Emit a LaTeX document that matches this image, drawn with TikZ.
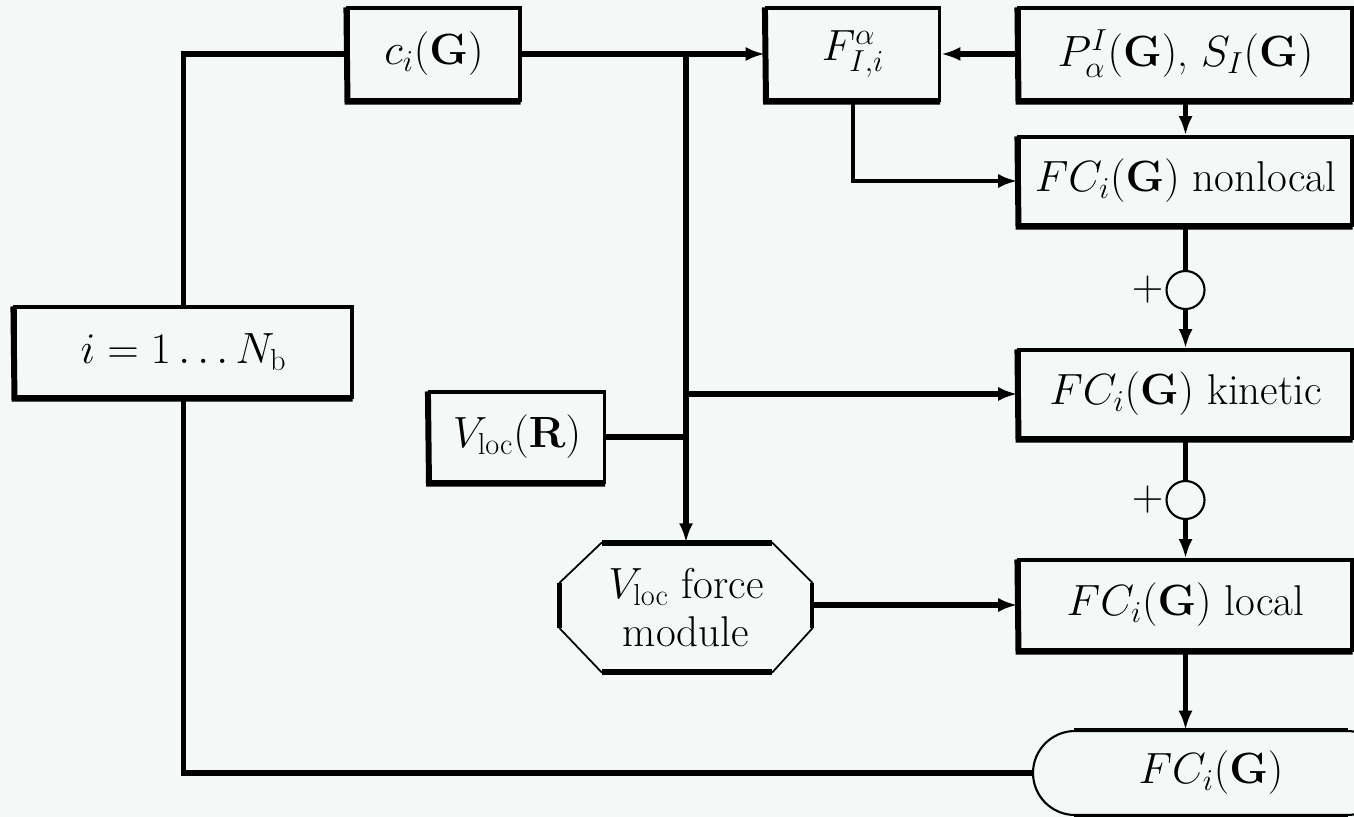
\documentclass[tikz,border=0pt]{standalone}
\usepackage{graphicx}
\usetikzlibrary{arrows.meta,calc}
\definecolor{bgc}{RGB}{244,248,246}
\begin{document}
\begin{tikzpicture}[x=0.02cm,y=-0.02cm,
  font=\fontsize{24.5}{27}\selectfont,
  conn/.style={line width=3pt},
  arr/.style={line width=3pt,-{Latex[length=11pt,width=8pt]}},
  thinarr/.style={line width=2.4pt,-{Latex[length=11pt,width=8pt]}},
  boxn/.style={rectangle,draw,line width=1.8pt,fill=bgc,inner sep=0pt},
  shade/.style={line width=3.4pt},
  sumc/.style={circle,draw,line width=1.2pt,fill=bgc,minimum size=38*0.02cm,inner sep=0pt}]
\fill[bgc] (0,0) rectangle (1354,817);
\clip (0,0) rectangle (1354,817);
% nodes
\node[boxn,minimum width=172*0.02cm,minimum height=92*0.02cm] (ci) at (434,54) {$c_i(\mathbf{G})$};
\node[boxn,minimum width=173*0.02cm,minimum height=92*0.02cm] (F) at (853,54) {$F^{\alpha}_{I,i}$};
\node[boxn,minimum width=333*0.02cm,minimum height=92*0.02cm] (P) at (1185.5,54) {$P^{I}_{\alpha}(\mathbf{G})$, $S_I(\mathbf{G})$};
\node[boxn,minimum width=333*0.02cm,minimum height=88*0.02cm] (NL) at (1185.5,181) {$FC_i(\mathbf{G})$ nonlocal};
\node[sumc] (c1) at (1185.5,290) {};
\node[anchor=east,inner sep=1pt] (p1) at (c1.west) {$+$};
\node[boxn,minimum width=333*0.02cm,minimum height=88*0.02cm] (KI) at (1185.5,394) {$FC_i(\mathbf{G})$ kinetic};
\node[sumc] (c2) at (1185.5,500) {};
\node[anchor=east,inner sep=1pt] (p2) at (c2.west) {$+$};
\node[boxn,minimum width=333*0.02cm,minimum height=90*0.02cm] (LO) at (1185.5,605) {$FC_i(\mathbf{G})$ local};
\node[rectangle,draw,line width=1.2pt,fill=bgc,rounded corners=0.84cm,minimum width=356*0.02cm,minimum height=84*0.02cm] (FC) at (1211,773) {$FC_i(\mathbf{G})$};
\node[boxn,minimum width=337*0.02cm,minimum height=90*0.02cm] (iN) at (183.5,352) {$i = 1\ldots N_{\mathrm{b}}$};
\node[boxn,minimum width=175*0.02cm,minimum height=90*0.02cm] (VR) at (517,437) {$V_{\mathrm{loc}}(\mathbf{R})$};
\node[rectangle,minimum width=252*0.02cm,minimum height=129*0.02cm,inner sep=0pt] (oct) at (686,607.5) {};
% shading edges of boxes
\foreach \n in {ci,F,P,NL,KI,LO,iN,VR}
  \draw[shade] ([yshift=-0.6pt]\n.north west) -- ([xshift=0.6pt]\n.south west) -- ([xshift=-0.6pt]\n.south east);
% octagon
\fill[bgc] ($(oct.north west)+(42,0)$) -- ($(oct.north east)+(-40,0)$) -- ($(oct.north east)+(0,40)$) -- ($(oct.south east)+(0,-44)$) -- ($(oct.south east)+(-40,0)$) -- ($(oct.south west)+(42,0)$) -- ($(oct.south west)+(0,-44)$) -- ($(oct.north west)+(0,40)$) -- cycle;
\draw[line width=1pt] ($(oct.north west)+(42,0)$) -- ($(oct.north east)+(-40,0)$) -- ($(oct.north east)+(0,40)$) -- ($(oct.south east)+(0,-44)$) -- ($(oct.south east)+(-40,0)$) -- ($(oct.south west)+(42,0)$) -- ($(oct.south west)+(0,-44)$) -- ($(oct.north west)+(0,40)$) -- cycle;
\draw[line width=3.4pt] ($(oct.north west)+(42,0)$) -- ($(oct.north east)+(-40,0)$);
\draw[line width=3.4pt] ($(oct.south west)+(42,0)$) -- ($(oct.south east)+(-40,0)$);
\draw[line width=2.6pt] ($(oct.south west)+(0,-44)$) -- ($(oct.north west)+(0,40)$);
\draw[line width=2.2pt] ($(oct.north east)+(0,40)$) -- ($(oct.south east)+(0,-44)$);
\node[align=center,inner sep=0pt] (octtext) at (oct) {$V_{\mathrm{loc}}$ force\\module};
% terminal top/bottom edges
\draw[line width=2pt] ($(FC.north west)+(42,0)$) -- ($(FC.north east)+(-42,0)$);
\draw[line width=2pt] ($(FC.south west)+(42,0)$) -- ($(FC.south east)+(-42,0)$);
% connectors
\coordinate (J) at (oct.north |- ci.east);
\draw[conn] (ci.west) -| (iN.north);
\draw[conn] (iN.south) |- (FC.west);
\draw[arr] (ci.east) -- (F.west);
\draw[arr] (J) -- (oct.north);
\draw[arr] (oct.north |- KI.west) -- (KI.west);
\draw[conn] (VR.east) -- (VR.east -| oct.north);
\draw[arr] (P.west) -- (F.east);
\draw[thinarr] (F.south) |- (NL.west);
\draw[arr] (P.south) -- (NL.north);
\draw[conn] (NL.south) -- (c1.north);
\draw[arr] (c1.south) -- (KI.north);
\draw[conn] (KI.south) -- (c2.north);
\draw[arr] (c2.south) -- (LO.north);
\draw[arr] (oct.east |- LO.west) -- (LO.west);
\draw[arr] (LO.south) -- (LO.south |- FC.north);
\end{tikzpicture}
\end{document}
